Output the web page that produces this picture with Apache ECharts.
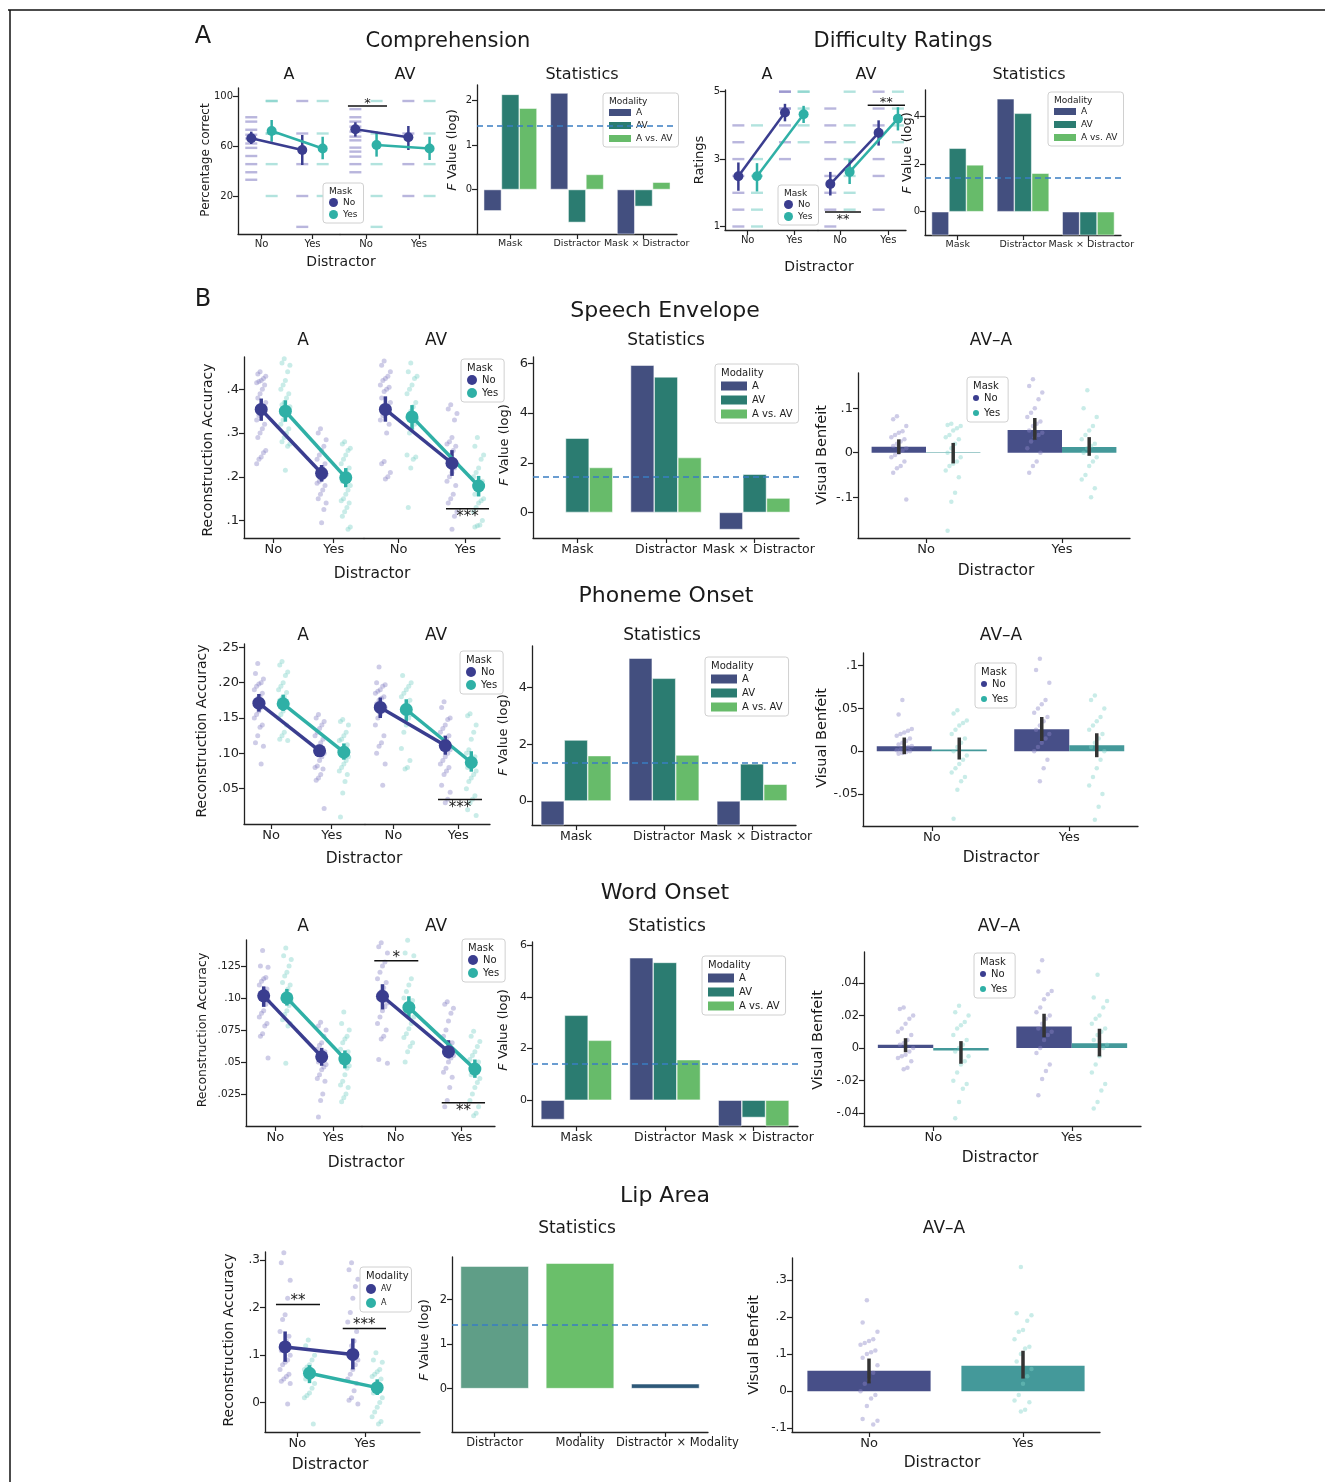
<!DOCTYPE html>
<html><head><meta charset="utf-8">
<script src="https://cdn.jsdelivr.net/npm/echarts@6/dist/echarts.min.js"></script>
<style>html,body{margin:0;padding:0;background:#fff}#c{width:1325px;height:1482px}</style>
</head><body><div id="c"></div>
<script>
// ======================= DATA =======================
const distractorCats = ['No', 'Yes'];
const statCatsMD = ['Mask', 'Distractor', 'Mask × Distractor'];
const statCatsLip = ['Distractor', 'Modality', 'Distractor × Modality'];

// ---- Comprehension (percentage correct)
const compTicks = [20, 60, 100], compTickLabels = ['20', '60', '100'];
const compA_meanNo = [66.2, 56.8], compA_meanYes = [72.0, 58.0];
const compA_loNo = [61.6, 44.8], compA_hiNo = [71.5, 68.8];
const compA_loYes = [63.4, 49.4], compA_hiYes = [80.8, 67.4];
const compAV_meanNo = [73.4, 67.0], compAV_meanYes = [60.8, 58.0];
const compAV_loNo = [67.5, 56.8], compAV_hiNo = [79.0, 76.0];
const compAV_loYes = [51.5, 48.8], compAV_hiYes = [71.5, 67.4];
const compA_dotsNo = [[83, 79.5, 73, 69, 66, 62, 58.5, 52, 45.5, 39, 33], [96, 70, 45.5, 20, -4.7]];
const compA_dotsYes = [[96, 96, 70, 70, 45.5, 20], [96, 70, 45.5, 20]];
const compAV_dotsNo = [[89.5, 83, 79.5, 75.5, 71.5, 67.5, 64.5, 58.7, 55.5, 51.5, 45.5, 39], [96, 70, 45.5, 20]];
const compAV_dotsYes = [[96, 70, 45.5, 20, -4.7], [96, 70, 45.5, 20]];
const compSigAV = [[-0.34, 0.397, 92, '*', 'above']];
const compStat_A = [-0.48, 2.17, -1.2], compStat_AV = [2.14, -0.74, -0.38], compStat_AvsAV = [1.83, 0.34, 0.165];
const compThreshold = 1.44;

// ---- Difficulty ratings
const diffTicks = [1, 3, 5], diffTickLabels = ['1', '3', '5'];
const diffA_meanNo = [2.49, 4.38], diffA_meanYes = [2.49, 4.33];
const diffA_loNo = [2.06, 4.12], diffA_hiNo = [2.9, 4.64];
const diffA_loYes = [2.04, 4.07], diffA_hiYes = [2.88, 4.58];
const diffAV_meanNo = [2.26, 3.78], diffAV_meanYes = [2.62, 4.2];
const diffAV_loNo = [1.92, 3.4], diffAV_hiNo = [2.62, 4.15];
const diffAV_loYes = [2.26, 3.85], diffAV_hiYes = [2.99, 4.54];
const diffA_dotsNo = [[4, 3.5, 3, 2.5, 2, 1.5, 1], [5, 5, 4.5, 4.5, 4, 3.5, 3]];
const diffA_dotsYes = [[4, 3, 2.5, 2, 1.5, 1], [5, 5, 4.5, 4, 3.5]];
const diffAV_dotsNo = [[4.5, 4, 3.5, 3, 2.5, 2, 1.5, 1], [5, 4.5, 4, 3, 2.5, 1.5]];
const diffAV_dotsYes = [[5, 4, 3.5, 3, 2.5, 2, 1.5], [5, 4.5, 4, 3.5]];
const diffSigAV = [[-0.31, 0.435, 1.43, '**', 'below'], [0.574, 1.346, 4.6, '**', 'above']];
const diffStat_A = [-1.2, 4.75, -1.2], diffStat_AV = [2.67, 4.14, -1.2], diffStat_AvsAV = [1.97, 1.62, -1.2];
const diffThreshold = 1.43;

// ---- Speech envelope
const seTicks = [0.1, 0.2, 0.3, 0.4], seTickLabels = ['.1', '.2', '.3', '.4'];
const seA_meanNo = [0.354, 0.208], seA_meanYes = [0.35, 0.198];
const seA_loNo = [0.328, 0.189], seA_hiNo = [0.379, 0.227];
const seA_loYes = [0.326, 0.176], seA_hiYes = [0.375, 0.22];
const seAV_meanNo = [0.354, 0.231], seAV_meanYes = [0.337, 0.179];
const seAV_loNo = [0.326, 0.202], seAV_hiNo = [0.384, 0.261];
const seAV_loYes = [0.308, 0.155], seAV_hiYes = [0.364, 0.202];
const seA_dotsNo = [[0.44, 0.435, 0.43, 0.425, 0.42, 0.418, 0.415, 0.41, 0.40, 0.39, 0.38, 0.37, 0.36, 0.35, 0.34, 0.33, 0.32, 0.31, 0.30, 0.29, 0.26, 0.255, 0.245, 0.24, 0.23],
                    [0.31, 0.30, 0.285, 0.27, 0.26, 0.25, 0.24, 0.23, 0.22, 0.215, 0.21, 0.205, 0.20, 0.195, 0.19, 0.185, 0.18, 0.17, 0.16, 0.15, 0.14, 0.125, 0.095]];
const seA_dotsYes = [[0.47, 0.46, 0.455, 0.44, 0.42, 0.41, 0.40, 0.39, 0.38, 0.37, 0.365, 0.36, 0.35, 0.34, 0.33, 0.32, 0.31, 0.30, 0.29, 0.28, 0.275, 0.27, 0.215],
                     [0.28, 0.275, 0.265, 0.26, 0.25, 0.24, 0.23, 0.22, 0.21, 0.20, 0.19, 0.18, 0.17, 0.16, 0.15, 0.145, 0.14, 0.13, 0.12, 0.11, 0.085, 0.08]];
const seAV_dotsNo = [[0.465, 0.455, 0.44, 0.43, 0.425, 0.42, 0.41, 0.405, 0.40, 0.395, 0.38, 0.37, 0.36, 0.35, 0.34, 0.33, 0.32, 0.30, 0.235, 0.23, 0.21, 0.20, 0.195],
                     [0.365, 0.355, 0.345, 0.33, 0.29, 0.28, 0.275, 0.27, 0.26, 0.25, 0.24, 0.23, 0.22, 0.21, 0.20, 0.19, 0.18, 0.16, 0.15, 0.14, 0.12, 0.11, 0.08]];
const seAV_dotsYes = [[0.46, 0.44, 0.43, 0.425, 0.41, 0.40, 0.39, 0.37, 0.36, 0.35, 0.34, 0.33, 0.32, 0.31, 0.30, 0.25, 0.245, 0.24, 0.22, 0.13],
                      [0.29, 0.27, 0.25, 0.24, 0.22, 0.21, 0.20, 0.19, 0.18, 0.17, 0.16, 0.15, 0.145, 0.14, 0.13, 0.12, 0.10, 0.09, 0.088, 0.085]];
const seSigAV = [[0.71, 1.356, 0.127, '***', 'below']];
const seStat_A = [0.02, 5.93, -0.69], seStat_AV = [2.99, 5.46, 1.54], seStat_AvsAV = [1.81, 2.21, 0.58];
const seThreshold = 1.43;
const seBTicks = [-0.1, 0, 0.1], seBTickLabels = ['-.1', '0', '.1'];
const seB_meanNo = [0.0135, 0.051], seB_meanYes = [0.001, 0.013];
const seB_loNo = [-0.003, 0.029], seB_hiNo = [0.03, 0.078];
const seB_loYes = [-0.024, -0.007], seB_hiYes = [0.022, 0.035];
const seB_dotsNo = [[0.082, 0.075, 0.06, 0.048, 0.045, 0.04, 0.035, 0.03, 0.025, 0.02, 0.015, 0.01, 0.005, 0, -0.005, -0.01, -0.02, -0.03, -0.035, -0.045, -0.105],
                    [0.165, 0.15, 0.135, 0.12, 0.1, 0.09, 0.08, 0.07, 0.065, 0.06, 0.05, 0.045, 0.04, 0.035, 0.025, 0.01, 0, -0.02, -0.03, -0.045]];
const seB_dotsYes = [[0.065, 0.062, 0.06, 0.055, 0.05, 0.04, 0.035, 0.03, 0.02, 0.01, 0, -0.01, -0.02, -0.025, -0.03, -0.04, -0.055, -0.09, -0.11, -0.175],
                     [0.14, 0.1, 0.08, 0.06, 0.05, 0.04, 0.03, 0.02, 0.015, 0.01, 0, -0.01, -0.02, -0.03, -0.05, -0.06, -0.08, -0.1]];

// ---- Phoneme onset
const poTicks = [0.05, 0.1, 0.15, 0.2, 0.25], poTickLabels = ['.05', '.10', '.15', '.20', '.25'];
const poA_meanNo = [0.171, 0.1035], poA_meanYes = [0.170, 0.1017];
const poA_loNo = [0.159, 0.095], poA_hiNo = [0.184, 0.112];
const poA_loYes = [0.160, 0.091], poA_hiYes = [0.183, 0.114];
const poAV_meanNo = [0.165, 0.111], poAV_meanYes = [0.162, 0.087];
const poAV_loNo = [0.150, 0.098], poAV_hiNo = [0.179, 0.125];
const poAV_loYes = [0.145, 0.074], poAV_hiYes = [0.1765, 0.103];
const poA_dotsNo = [[0.227, 0.213, 0.205, 0.20, 0.198, 0.195, 0.19, 0.185, 0.18, 0.178, 0.175, 0.17, 0.165, 0.16, 0.155, 0.15, 0.14, 0.137, 0.125, 0.115, 0.11, 0.085],
                    [0.155, 0.15, 0.145, 0.14, 0.135, 0.13, 0.125, 0.12, 0.115, 0.11, 0.105, 0.1, 0.095, 0.09, 0.082, 0.08, 0.078, 0.07, 0.065, 0.062, 0.022]];
const poA_dotsYes = [[0.23, 0.225, 0.215, 0.21, 0.2, 0.195, 0.19, 0.186, 0.18, 0.178, 0.175, 0.17, 0.165, 0.16, 0.155, 0.15, 0.14, 0.13, 0.125, 0.12, 0.118],
                     [0.148, 0.145, 0.14, 0.13, 0.125, 0.12, 0.118, 0.112, 0.108, 0.104, 0.1, 0.095, 0.09, 0.085, 0.08, 0.075, 0.07, 0.06, 0.044, 0.01]];
const poAV_dotsNo = [[0.222, 0.2, 0.197, 0.195, 0.19, 0.188, 0.185, 0.18, 0.178, 0.175, 0.17, 0.165, 0.16, 0.155, 0.15, 0.14, 0.125, 0.115, 0.11, 0.1, 0.085, 0.055],
                     [0.173, 0.165, 0.15, 0.148, 0.14, 0.135, 0.13, 0.125, 0.12, 0.115, 0.11, 0.105, 0.1, 0.095, 0.09, 0.085, 0.08, 0.075, 0.07, 0.055, 0.045, 0.035, 0.03]];
const poAV_dotsYes = [[0.255, 0.21, 0.2, 0.195, 0.19, 0.185, 0.18, 0.175, 0.17, 0.165, 0.16, 0.155, 0.15, 0.14, 0.13, 0.107, 0.09, 0.08, 0.078],
                      [0.156, 0.153, 0.14, 0.13, 0.12, 0.105, 0.1, 0.095, 0.09, 0.085, 0.08, 0.075, 0.07, 0.065, 0.06, 0.05, 0.04, 0.035, 0.03, 0.02, 0.012]];
const poSigAV = [[0.688, 1.365, 0.0345, '***', 'below']];
const poStat_A = [-1.0, 5.04, -1.0], poStat_AV = [2.15, 4.33, 1.31], poStat_AvsAV = [1.6, 1.62, 0.59];
const poThreshold = 1.35;
const poBTicks = [-0.05, 0, 0.05, 0.1], poBTickLabels = ['-.05', '0', '.05', '.1'];
const poB_meanNo = [0.0058, 0.0257], poB_meanYes = [0.002, 0.007];
const poB_loNo = [-0.0035, 0.012], poB_hiNo = [0.016, 0.04];
const poB_loYes = [-0.0097, -0.007], poB_hiYes = [0.016, 0.021];
const poB_dotsNo = [[0.06, 0.043, 0.026, 0.024, 0.022, 0.02, 0.018, 0.015, 0.012, 0.01, 0.008, 0.006, 0.005, 0.003, 0.002, 0.001, 0, -0.001, -0.002, -0.003],
                    [0.108, 0.095, 0.08, 0.06, 0.055, 0.05, 0.045, 0.04, 0.035, 0.03, 0.025, 0.02, 0.015, 0.01, 0.005, 0, -0.01, -0.02, -0.035]];
const poB_dotsYes = [[0.048, 0.044, 0.036, 0.033, 0.03, 0.025, 0.02, 0.015, 0.01, 0.005, 0, -0.005, -0.01, -0.015, -0.02, -0.025, -0.03, -0.035, -0.045, -0.079],
                     [0.065, 0.06, 0.05, 0.04, 0.035, 0.03, 0.025, 0.02, 0.015, 0.01, 0.005, 0, -0.01, -0.02, -0.03, -0.04, -0.05, -0.065, -0.08]];

// ---- Word onset
const woTicks = [0.025, 0.05, 0.075, 0.1, 0.125], woTickLabels = ['.025', '.05', '.075', '.10', '.125'];
const woA_meanNo = [0.1016, 0.054], woA_meanYes = [0.100, 0.0523];
const woA_loNo = [0.093, 0.047], woA_hiNo = [0.109, 0.061];
const woA_loYes = [0.094, 0.045], woA_hiYes = [0.107, 0.059];
const woAV_meanNo = [0.1013, 0.058], woAV_meanYes = [0.0926, 0.0444];
const woAV_loNo = [0.091, 0.0528], woAV_hiNo = [0.1107, 0.067];
const woAV_loYes = [0.084, 0.0376], woAV_hiYes = [0.1013, 0.0519];
const woA_dotsNo = [[0.137, 0.125, 0.124, 0.116, 0.115, 0.113, 0.11, 0.107, 0.105, 0.103, 0.1, 0.098, 0.095, 0.09, 0.088, 0.085, 0.08, 0.078, 0.072, 0.07, 0.053],
                    [0.081, 0.078, 0.075, 0.07, 0.065, 0.063, 0.06, 0.058, 0.055, 0.053, 0.05, 0.048, 0.046, 0.044, 0.04, 0.037, 0.035, 0.025, 0.02, 0.007]];
const woA_dotsYes = [[0.139, 0.133, 0.13, 0.125, 0.12, 0.117, 0.112, 0.11, 0.107, 0.104, 0.1, 0.097, 0.094, 0.09, 0.087, 0.083, 0.08, 0.078, 0.049],
                     [0.089, 0.08, 0.075, 0.07, 0.068, 0.065, 0.06, 0.058, 0.055, 0.052, 0.05, 0.047, 0.045, 0.04, 0.035, 0.032, 0.03, 0.025, 0.022, 0.019]];
const woAV_dotsNo = [[0.143, 0.14, 0.135, 0.128, 0.125, 0.12, 0.115, 0.112, 0.108, 0.105, 0.1, 0.096, 0.093, 0.09, 0.085, 0.08, 0.075, 0.07, 0.068, 0.052, 0.049],
                     [0.097, 0.095, 0.092, 0.088, 0.082, 0.075, 0.07, 0.065, 0.063, 0.06, 0.058, 0.055, 0.053, 0.05, 0.045, 0.042, 0.038, 0.03, 0.02, 0.015]];
const woAV_dotsYes = [[0.145, 0.135, 0.133, 0.115, 0.11, 0.105, 0.1, 0.098, 0.095, 0.092, 0.088, 0.085, 0.08, 0.076, 0.072, 0.069, 0.065, 0.062, 0.058, 0.05],
                      [0.074, 0.07, 0.066, 0.062, 0.058, 0.055, 0.052, 0.05, 0.047, 0.044, 0.04, 0.037, 0.034, 0.03, 0.025, 0.02, 0.015, 0.01, 0.008]];
const woSigAV = [[-0.324, 0.343, 0.129, '*', 'above'], [0.698, 1.354, 0.0182, '**', 'below']];
const woStat_A = [-0.75, 5.52, -1.2], woStat_AV = [3.29, 5.34, -0.67], woStat_AvsAV = [2.32, 1.57, -1.2];
const woThreshold = 1.42;
const woBTicks = [-0.04, -0.02, 0, 0.02, 0.04], woBTickLabels = ['-.04', '-.02', '0', '.02', '.04'];
const woB_meanNo = [0.002, 0.0133], woB_meanYes = [-0.0015, 0.003];
const woB_loNo = [-0.0025, 0.0067], woB_hiNo = [0.0061, 0.0211];
const woB_loYes = [-0.0096, -0.0051], woB_hiYes = [0.0043, 0.0119];
const woB_dotsNo = [[0.025, 0.024, 0.02, 0.018, 0.015, 0.012, 0.01, 0.008, 0.005, 0.003, 0.002, 0, -0.002, -0.004, -0.005, -0.006, -0.008, -0.012, -0.013],
                    [0.054, 0.047, 0.035, 0.033, 0.03, 0.025, 0.022, 0.02, 0.018, 0.015, 0.012, 0.01, 0.008, 0.005, 0, -0.003, -0.01, -0.014, -0.019, -0.029]];
const woB_dotsYes = [[0.026, 0.022, 0.02, 0.016, 0.014, 0.012, 0.008, 0.005, 0.002, 0, -0.002, -0.005, -0.008, -0.01, -0.015, -0.02, -0.022, -0.025, -0.033, -0.043],
                     [0.045, 0.031, 0.029, 0.025, 0.02, 0.018, 0.015, 0.012, 0.01, 0.008, 0.005, 0.002, 0, -0.005, -0.01, -0.015, -0.022, -0.026, -0.033, -0.037]];

// ---- Lip area
const lipTicks = [0, 0.1, 0.2, 0.3], lipTickLabels = ['0', '.1', '.2', '.3'];
const lip_meanAV = [0.1174, 0.1015], lip_meanA = [0.0619, 0.0315];
const lip_loAV = [0.086, 0.070], lip_hiAV = [0.150, 0.135];
const lip_loA = [0.041, 0.016], lip_hiA = [0.079, 0.049];
const lip_dotsAV = [[0.316, 0.295, 0.258, 0.22, 0.185, 0.175, 0.15, 0.14, 0.13, 0.12, 0.11, 0.1, 0.09, 0.085, 0.08, 0.07, 0.06, 0.055, 0.05, 0.045, 0.04, -0.003],
                    [0.295, 0.28, 0.26, 0.245, 0.22, 0.19, 0.17, 0.15, 0.13, 0.12, 0.1, 0.09, 0.08, 0.07, 0.06, 0.05, 0.04, 0.025, 0.01, 0.005, -0.003]];
const lip_dotsA = [[0.132, 0.12, 0.1, 0.09, 0.08, 0.075, 0.07, 0.065, 0.06, 0.055, 0.05, 0.04, 0.03, 0.02, 0.015, 0.01, -0.045],
                   [0.105, 0.09, 0.085, 0.07, 0.065, 0.06, 0.055, 0.05, 0.04, 0.03, 0.02, 0.01, 0, -0.01, -0.02, -0.03, -0.04, -0.045]];
const lipSig = [[-0.315, 0.335, 0.207, '**', 'above'], [0.671, 1.31, 0.156, '***', 'above']];
const lipStat = [2.755, 2.82, 0.11];
const lipThreshold = 1.44;
const lipBTicks = [-0.1, 0, 0.1, 0.2, 0.3], lipBTickLabels = ['-.1', '0', '.1', '.2', '.3'];
const lipB_mean = [0.055, 0.0685], lipB_lo = [0.021, 0.034], lipB_hi = [0.088, 0.109];
const lipB_dots = [[0.245, 0.185, 0.16, 0.14, 0.135, 0.13, 0.125, 0.11, 0.105, 0.1, 0.09, 0.07, 0.05, 0.03, 0.02, 0, -0.01, -0.02, -0.04, -0.075, -0.08, -0.09],
                   [0.335, 0.21, 0.205, 0.19, 0.165, 0.16, 0.14, 0.12, 0.115, 0.1, 0.08, 0.06, 0.04, 0.02, -0.01, -0.025, -0.03, -0.05, -0.055]];

// ======================= STYLE / HELPERS =======================
const F = 'DejaVu Sans';
const COL = {no: '#3a3d8f', yes: '#2fb0a6', noDot: '#8a86c6', yesDot: '#7fd1c8',
  A: '#434f7f', AV: '#2b7c71', AvAV: '#67bb6a', barNo: '#474f88', barYes: '#44999a',
  lip1: '#5f9e87', lip2: '#6abf6a', lip3: '#2d5878', thr: '#3a7ec2', ax: '#222', err: '#333'};

const option = {animation: false, backgroundColor: '#fff', textStyle: {fontFamily: F},
  grid: [], xAxis: [], yAxis: [], series: [], legend: [], graphic: []};

function addGrid(l, t, w, h) {
  option.grid.push({left: l, top: t, width: w, height: h, containLabel: false, outerBoundsMode: 'none'});
  return option.grid.length - 1;
}
function fmtFrom(ticks, labels) {
  return v => { const i = ticks.findIndex(t => Math.abs(t - v) < 1e-9); return i < 0 ? '' : labels[i]; };
}
function axisCommon(fs) {
  return {axisLine: {show: true, onZero: false, lineStyle: {color: COL.ax, width: 1.3}},
    axisTick: {show: true, length: 5, lineStyle: {color: COL.ax, width: 1.2}},
    axisLabel: {show: true, fontSize: fs, color: '#222', margin: 5, fontFamily: F},
    splitLine: {show: false}};
}
function valX(gi, min, max, ticks, labels, fs, show) {
  const a = Object.assign(axisCommon(fs), {type: 'value', gridIndex: gi, min, max, show, position: show ? 'bottom' : 'top'});
  a.axisTick.customValues = ticks; a.axisLabel.customValues = ticks; a.axisLabel.formatter = fmtFrom(ticks, labels);
  option.xAxis.push(a); return option.xAxis.length - 1;
}
function valY(gi, min, max, ticks, labels, fs, show) {
  const a = Object.assign(axisCommon(fs), {type: 'value', gridIndex: gi, min, max, show, position: 'left'});
  a.axisTick.customValues = ticks; a.axisLabel.customValues = ticks; a.axisLabel.formatter = fmtFrom(ticks, labels);
  option.yAxis.push(a); return option.yAxis.length - 1;
}
function catX(gi, cats, fs, lastShift) {
  const a = Object.assign(axisCommon(fs), {type: 'category', gridIndex: gi, data: cats, position: 'bottom'});
  a.axisTick.alignWithLabel = true; a.axisTick.interval = 0; a.axisLabel.interval = 0;
  if (lastShift) {
    a.axisLabel.formatter = (v, i) => i === cats.length - 1 ? '{r|' + v + '}' : v;
    a.axisLabel.rich = {r: {padding: [0, 0, 0, lastShift], fontSize: fs, fontFamily: F, color: '#222'}};
  }
  option.xAxis.push(a); return option.xAxis.length - 1;
}
// deterministic horizontal spread for the strip dots (position only)
function jit(i, amp) { return ((((i * 7 + 3) % 9) - 4) / 4) * amp; }
function errRender(lw, color) {
  return (params, api) => {
    const p1 = api.coord([api.value(0), api.value(1)]), p2 = api.coord([api.value(0), api.value(2)]);
    return {type: 'line', shape: {x1: p1[0], y1: p1[1], x2: p2[0], y2: p2[1]}, style: {stroke: color, lineWidth: lw}};
  };
}
function sigSeries(xi, yi, s, fs) {
  return {type: 'custom', xAxisIndex: xi, yAxisIndex: yi, silent: true, z: 6, clip: false, data: [[s[0], s[1], s[2]]],
    renderItem: (pr, api) => {
      const a = api.coord([api.value(0), api.value(2)]), b = api.coord([api.value(1), api.value(2)]);
      const above = s[4] === 'above';
      return {type: 'group', children: [
        {type: 'line', shape: {x1: a[0], y1: a[1], x2: b[0], y2: b[1]}, style: {stroke: '#111', lineWidth: 1.5}},
        {type: 'text', x: (a[0] + b[0]) / 2, y: above ? a[1] + fs * 0.3 : a[1] + 1,
          style: {text: s[3], fontSize: fs, fontFamily: F, fill: '#222', textAlign: 'center', textVerticalAlign: above ? 'bottom' : 'top'}}]};
    }};
}
function hue(name, off, color, dot, mean, lo, hi, dots) { return {name, off, color, dot, mean, lo, hi, dots}; }

function pointFacet(p) {
  const gi = addGrid(p.l, p.t, p.w, p.h);
  const xi = valX(gi, p.xmin, p.xmax, [0, 1], distractorCats, p.xfs, true);
  const yi = valY(gi, p.ymin, p.ymax, p.yTicks, p.yLabels, p.yfs, p.showY);
  p.hues.forEach(h => {
    [0, 1].forEach(c => {
      option.series.push({type: 'scatter', name: h.name, xAxisIndex: xi, yAxisIndex: yi, silent: true, z: 1,
        symbol: p.dash ? 'rect' : 'circle', symbolSize: p.dash ? [12, 2.4] : 5,
        itemStyle: {color: h.dot, opacity: p.dash ? 0.6 : 0.42},
        data: h.dots[c].map((v, i) => [c + h.off + (p.dash ? 0 : jit(i, 0.075)), v])});
    });
    option.series.push({type: 'custom', xAxisIndex: xi, yAxisIndex: yi, silent: true, z: 3, clip: false,
      data: [0, 1].map(c => [c + h.off, h.lo[c], h.hi[c]]), renderItem: errRender(p.elw, h.color)});
    option.series.push({type: 'line', xAxisIndex: xi, yAxisIndex: yi, silent: true, z: 4, symbol: 'circle', symbolSize: p.ms,
      itemStyle: {color: h.color}, lineStyle: {color: h.color, width: p.lw},
      data: [0, 1].map(c => [c + h.off, h.mean[c]])});
  });
  (p.sig || []).forEach(s => option.series.push(sigSeries(xi, yi, s, p.sigFs)));
}

function statsPanel(p) {
  const gi = addGrid(p.l, p.t, p.w, p.h);
  const xi = catX(gi, p.cats, p.xfs, p.lastShift);
  const yi = valY(gi, p.ymin, p.ymax, p.yTicks, p.yLabels, p.yfs, true);
  p.bars.forEach((b, k) => {
    const s = {type: 'bar', name: b.name, xAxisIndex: xi, yAxisIndex: yi, silent: true, z: 2, clip: true,
      barGap: '0%', barCategoryGap: '20%',
      itemStyle: {color: b.color, borderColor: 'rgba(255,255,255,0.85)', borderWidth: 0.6},
      data: b.colors ? b.values.map((v, i) => ({value: v, itemStyle: {color: b.colors[i]}})) : b.values};
    if (b.colors) { delete s.barGap; delete s.barCategoryGap; s.barWidth = '80%'; }
    if (k === p.bars.length - 1) {
      s.markLine = {silent: true, symbol: ['none', 'none'], label: {show: false}, animation: false,
        lineStyle: {color: COL.thr, type: [6, 4], width: 1.6}, data: [{yAxis: p.thr}]};
    }
    option.series.push(s);
  });
}

function benefitPanel(p) {
  const gi = addGrid(p.l, p.t, p.w, p.h);
  const xc = catX(gi, distractorCats, p.xfs);
  const xv = valX(gi, -0.5, 1.5, [0, 1], distractorCats, p.xfs, false);
  const yi = valY(gi, p.ymin, p.ymax, p.yTicks, p.yLabels, p.yfs, true);
  p.hues.forEach((h, k) => {
    const bar = {type: 'bar', xAxisIndex: xc, yAxisIndex: yi, silent: true, z: 2, itemStyle: {color: h.bar}};
    if (p.single) { bar.barWidth = '80%'; bar.data = h.mean.map((v, i) => ({value: v, itemStyle: {color: p.barColors[i]}})); }
    else { bar.barGap = '0%'; bar.barCategoryGap = '20%'; bar.data = h.mean; }
    if (!p.single || k === 0) option.series.push(bar);
    [0, 1].forEach(c => {
      const dc = p.single ? p.dotColors[c] : h.dot;
      option.series.push({type: 'scatter', name: h.name, xAxisIndex: xv, yAxisIndex: yi, silent: true, z: 3,
        symbolSize: 4.5, itemStyle: {color: dc, opacity: 0.42},
        data: h.dots[c].map((v, i) => [c + h.off + jit(i, 0.055), v])});
    });
    option.series.push({type: 'custom', xAxisIndex: xv, yAxisIndex: yi, silent: true, z: 5, clip: false,
      data: [0, 1].map(c => [c + h.off, h.lo[c], h.hi[c]]), renderItem: errRender(3.5, COL.err)});
  });
}

function addLegend(left, top, title, items, o) {
  option.legend.push({left, top, orient: 'vertical', selectedMode: false, icon: o.icon, itemWidth: o.iw, itemHeight: o.ih,
    itemGap: o.gap, padding: [o.pt, o.pr || 6, 4, 6], borderColor: '#d0d0d0', borderWidth: 1, borderRadius: 3,
    backgroundColor: '#fff', textStyle: {fontSize: o.fs, color: '#222', fontFamily: F},
    formatter: n => n.split('|')[1],
    data: items.map(it => ({name: it[0], itemStyle: {color: it[1], opacity: 1, borderWidth: 0}}))});
  option.graphic.push({type: 'text', x: left + 6, y: top + 4, z: 100, silent: true,
    style: {text: title, fontSize: o.tfs || o.fs, fontFamily: F, fill: '#222', textAlign: 'left', textVerticalAlign: 'top'}});
}
function addText(x, y, s, fs, o) {
  o = o || {};
  const st = {text: s, fontSize: fs, fontFamily: F, fill: '#1a1a1a', textAlign: 'center', textVerticalAlign: 'middle'};
  if (o.rich) st.rich = o.rich;
  option.graphic.push({type: 'text', x, y, rotation: o.rot || 0, z: 100, silent: true, style: st});
}
function yTitle(x, y, s, fs) { addText(x, y, s, fs, {rot: Math.PI / 2}); }
function fTitle(x, y, fs) {
  addText(x, y, '{i|F} Value (log)', fs, {rot: Math.PI / 2,
    rich: {i: {fontStyle: 'italic', fontSize: fs, fontFamily: F, fill: '#1a1a1a', color: '#1a1a1a'}}});
}

// ======================= BUILD =======================
// figure frame
option.graphic.push({type: 'line', z: 100, silent: true, shape: {x1: 8, y1: 10, x2: 1325, y2: 10}, style: {stroke: '#111', lineWidth: 1.5}});
option.graphic.push({type: 'line', z: 100, silent: true, shape: {x1: 10, y1: 10, x2: 10, y2: 1482}, style: {stroke: '#111', lineWidth: 1.5}});

const secA = {xfs: 10, yfs: 10, dash: true, ms: 10, lw: 2.5, elw: 2.5, sigFs: 13};
const secB = {xfs: 13, yfs: 13, dash: false, ms: 13, lw: 3.5, elw: 3.5, sigFs: 15};

// ---- Comprehension
pointFacet(Object.assign({}, secA, {l: 238, t: 88, w: 102, h: 146, xmin: -0.46, xmax: 1.54, ymin: -10.4, ymax: 106.4,
  yTicks: compTicks, yLabels: compTickLabels, showY: true,
  hues: [hue('comp|No', -0.2, COL.no, COL.noDot, compA_meanNo, compA_loNo, compA_hiNo, compA_dotsNo),
         hue('comp|Yes', 0.2, COL.yes, COL.yesDot, compA_meanYes, compA_loYes, compA_hiYes, compA_dotsYes)]}));
pointFacet(Object.assign({}, secA, {l: 340, t: 88, w: 137, h: 146, xmin: -0.49, xmax: 2.095, ymin: -10.4, ymax: 106.4,
  yTicks: compTicks, yLabels: compTickLabels, showY: false, sig: compSigAV,
  hues: [hue('comp|No', -0.2, COL.no, COL.noDot, compAV_meanNo, compAV_loNo, compAV_hiNo, compAV_dotsNo),
         hue('comp|Yes', 0.2, COL.yes, COL.yesDot, compAV_meanYes, compAV_loYes, compAV_hiYes, compAV_dotsYes)]}));
statsPanel({l: 477, t: 85, w: 200, h: 149, cats: statCatsMD, xfs: 9.5, yfs: 10, ymin: -1.0, ymax: 2.35,
  yTicks: [0, 1, 2], yLabels: ['0', '1', '2'], thr: compThreshold, lastShift: 6,
  bars: [{name: 'cs|A', color: COL.A, values: compStat_A}, {name: 'cs|AV', color: COL.AV, values: compStat_AV},
         {name: 'cs|A vs. AV', color: COL.AvAV, values: compStat_AvsAV}]});

// ---- Difficulty ratings
pointFacet(Object.assign({}, secA, {l: 725, t: 90, w: 93, h: 140, xmin: -0.487, xmax: 1.509, ymin: 0.896, ymax: 5.05,
  yTicks: diffTicks, yLabels: diffTickLabels, showY: true,
  hues: [hue('diff|No', -0.2, COL.no, COL.noDot, diffA_meanNo, diffA_loNo, diffA_hiNo, diffA_dotsNo),
         hue('diff|Yes', 0.2, COL.yes, COL.yesDot, diffA_meanYes, diffA_loYes, diffA_hiYes, diffA_dotsYes)]}));
pointFacet(Object.assign({}, secA, {l: 818, t: 90, w: 88, h: 140, xmin: -0.455, xmax: 1.367, ymin: 0.896, ymax: 5.05,
  yTicks: diffTicks, yLabels: diffTickLabels, showY: false, sig: diffSigAV,
  hues: [hue('diff|No', -0.2, COL.no, COL.noDot, diffAV_meanNo, diffAV_loNo, diffAV_hiNo, diffAV_dotsNo),
         hue('diff|Yes', 0.2, COL.yes, COL.yesDot, diffAV_meanYes, diffAV_loYes, diffAV_hiYes, diffAV_dotsYes)]}));
statsPanel({l: 925, t: 90, w: 196, h: 145, cats: statCatsMD, xfs: 9.5, yfs: 10, ymin: -0.98, ymax: 5.12,
  yTicks: [0, 2, 4], yLabels: ['0', '2', '4'], thr: diffThreshold, lastShift: 6,
  bars: [{name: 'ds|A', color: COL.A, values: diffStat_A}, {name: 'ds|AV', color: COL.AV, values: diffStat_AV},
         {name: 'ds|A vs. AV', color: COL.AvAV, values: diffStat_AvsAV}]});

// ---- Speech envelope
pointFacet(Object.assign({}, secB, {l: 244, t: 357, w: 120, h: 181, xmin: -0.485, xmax: 1.502, ymin: 0.06, ymax: 0.474,
  yTicks: seTicks, yLabels: seTickLabels, showY: true,
  hues: [hue('se|No', -0.2, COL.no, COL.noDot, seA_meanNo, seA_loNo, seA_hiNo, seA_dotsNo),
         hue('se|Yes', 0.2, COL.yes, COL.yesDot, seA_meanYes, seA_loYes, seA_hiYes, seA_dotsYes)]}));
pointFacet(Object.assign({}, secB, {l: 364, t: 357, w: 136, h: 181, xmin: -0.521, xmax: 1.521, ymin: 0.06, ymax: 0.474,
  yTicks: seTicks, yLabels: seTickLabels, showY: false, sig: seSigAV,
  hues: [hue('se|No', -0.2, COL.no, COL.noDot, seAV_meanNo, seAV_loNo, seAV_hiNo, seAV_dotsNo),
         hue('se|Yes', 0.2, COL.yes, COL.yesDot, seAV_meanYes, seAV_loYes, seAV_hiYes, seAV_dotsYes)]}));
statsPanel({l: 533, t: 357, w: 266, h: 181, cats: statCatsMD, xfs: 12.5, yfs: 13, ymin: -1.03, ymax: 6.26,
  yTicks: [0, 2, 4, 6], yLabels: ['0', '2', '4', '6'], thr: seThreshold, lastShift: 8,
  bars: [{name: 'ss|A', color: COL.A, values: seStat_A}, {name: 'ss|AV', color: COL.AV, values: seStat_AV},
         {name: 'ss|A vs. AV', color: COL.AvAV, values: seStat_AvsAV}]});
benefitPanel({l: 858, t: 373, w: 272, h: 165, xfs: 13, yfs: 13, ymin: -0.1915, ymax: 0.179, yTicks: seBTicks, yLabels: seBTickLabels,
  hues: [{name: 'sb|No', off: -0.2, bar: COL.barNo, dot: COL.noDot, mean: seB_meanNo, lo: seB_loNo, hi: seB_hiNo, dots: seB_dotsNo},
         {name: 'sb|Yes', off: 0.2, bar: COL.barYes, dot: COL.yesDot, mean: seB_meanYes, lo: seB_loYes, hi: seB_hiYes, dots: seB_dotsYes}]});

// ---- Phoneme onset
pointFacet(Object.assign({}, secB, {l: 244, t: 644, w: 121, h: 180, xmin: -0.445, xmax: 1.548, ymin: 0, ymax: 0.2547,
  yTicks: poTicks, yLabels: poTickLabels, showY: true,
  hues: [hue('po|No', -0.2, COL.no, COL.noDot, poA_meanNo, poA_loNo, poA_hiNo, poA_dotsNo),
         hue('po|Yes', 0.2, COL.yes, COL.yesDot, poA_meanYes, poA_loYes, poA_hiYes, poA_dotsYes)]}));
pointFacet(Object.assign({}, secB, {l: 365, t: 644, w: 125, h: 180, xmin: -0.435, xmax: 1.488, ymin: 0, ymax: 0.2547,
  yTicks: poTicks, yLabels: poTickLabels, showY: false, sig: poSigAV,
  hues: [hue('po|No', -0.2, COL.no, COL.noDot, poAV_meanNo, poAV_loNo, poAV_hiNo, poAV_dotsNo),
         hue('po|Yes', 0.2, COL.yes, COL.yesDot, poAV_meanYes, poAV_loYes, poAV_hiYes, poAV_dotsYes)]}));
statsPanel({l: 532, t: 646, w: 264, h: 179, cats: statCatsMD, xfs: 12.5, yfs: 13, ymin: -0.85, ymax: 5.47,
  yTicks: [0, 2, 4], yLabels: ['0', '2', '4'], thr: poThreshold, lastShift: 8,
  bars: [{name: 'ps|A', color: COL.A, values: poStat_A}, {name: 'ps|AV', color: COL.AV, values: poStat_AV},
         {name: 'ps|A vs. AV', color: COL.AvAV, values: poStat_AvsAV}]});
benefitPanel({l: 863, t: 653, w: 275, h: 173, xfs: 13, yfs: 12.5, ymin: -0.0874, ymax: 0.1148, yTicks: poBTicks, yLabels: poBTickLabels,
  hues: [{name: 'pb|No', off: -0.2, bar: COL.barNo, dot: COL.noDot, mean: poB_meanNo, lo: poB_loNo, hi: poB_hiNo, dots: poB_dotsNo},
         {name: 'pb|Yes', off: 0.2, bar: COL.barYes, dot: COL.yesDot, mean: poB_meanYes, lo: poB_loYes, hi: poB_hiYes, dots: poB_dotsYes}]});

// ---- Word onset
pointFacet(Object.assign({}, secB, {l: 246, t: 940, w: 116, h: 186, xmin: -0.505, xmax: 1.495, ymin: 0, ymax: 0.1452,
  yTicks: woTicks, yLabels: woTickLabels, showY: true, yfs: 10.5,
  hues: [hue('wo|No', -0.2, COL.no, COL.noDot, woA_meanNo, woA_loNo, woA_hiNo, woA_dotsNo),
         hue('wo|Yes', 0.2, COL.yes, COL.yesDot, woA_meanYes, woA_loYes, woA_hiYes, woA_dotsYes)]}));
pointFacet(Object.assign({}, secB, {l: 362, t: 940, w: 133, h: 186, xmin: -0.51, xmax: 1.505, ymin: 0, ymax: 0.1452,
  yTicks: woTicks, yLabels: woTickLabels, showY: false, sig: woSigAV,
  hues: [hue('wo|No', -0.2, COL.no, COL.noDot, woAV_meanNo, woAV_loNo, woAV_hiNo, woAV_dotsNo),
         hue('wo|Yes', 0.2, COL.yes, COL.yesDot, woAV_meanYes, woAV_loYes, woAV_hiYes, woAV_dotsYes)]}));
statsPanel({l: 532, t: 942, w: 266, h: 184, cats: statCatsMD, xfs: 12.5, yfs: 11, ymin: -1.0, ymax: 6.13,
  yTicks: [0, 2, 4, 6], yLabels: ['0', '2', '4', '6'], thr: woThreshold, lastShift: 8,
  bars: [{name: 'ws|A', color: COL.A, values: woStat_A}, {name: 'ws|AV', color: COL.AV, values: woStat_AV},
         {name: 'ws|A vs. AV', color: COL.AvAV, values: woStat_AvsAV}]});
benefitPanel({l: 864, t: 952, w: 277, h: 174, xfs: 13, yfs: 11.5, ymin: -0.0478, ymax: 0.059, yTicks: woBTicks, yLabels: woBTickLabels,
  hues: [{name: 'wb|No', off: -0.2, bar: COL.barNo, dot: COL.noDot, mean: woB_meanNo, lo: woB_loNo, hi: woB_hiNo, dots: woB_dotsNo},
         {name: 'wb|Yes', off: 0.2, bar: COL.barYes, dot: COL.yesDot, mean: woB_meanYes, lo: woB_loYes, hi: woB_hiYes, dots: woB_dotsYes}]});

// ---- Lip area
pointFacet(Object.assign({}, secB, {l: 265, t: 1252, w: 155, h: 180, xmin: -0.477, xmax: 1.812, ymin: -0.062, ymax: 0.3175,
  yTicks: lipTicks, yLabels: lipTickLabels, showY: true, xfs: 13, yfs: 12, sig: lipSig,
  hues: [hue('lip|AV', -0.18, COL.no, COL.noDot, lip_meanAV, lip_loAV, lip_hiAV, lip_dotsAV),
         hue('lip|A', 0.18, COL.yes, COL.yesDot, lip_meanA, lip_loA, lip_hiA, lip_dotsA)]}));
statsPanel({l: 452, t: 1257, w: 256, h: 175, cats: statCatsLip, xfs: 11.5, yfs: 11.5, ymin: -0.975, ymax: 2.96,
  yTicks: [0, 1, 2], yLabels: ['0', '1', '2'], thr: lipThreshold, lastShift: 24,
  bars: [{name: 'ls|stat', color: COL.lip1, values: lipStat, colors: [COL.lip1, COL.lip2, COL.lip3]}]});
benefitPanel({l: 792, t: 1258, w: 308, h: 174, xfs: 13, yfs: 12, ymin: -0.11, ymax: 0.359, yTicks: lipBTicks, yLabels: lipBTickLabels,
  single: true, barColors: [COL.barNo, COL.barYes], dotColors: [COL.noDot, COL.yesDot],
  hues: [{name: 'lb|dots', off: 0, bar: COL.barNo, mean: lipB_mean, lo: lipB_lo, hi: lipB_hi, dots: lipB_dots}]});

// ---- Legends
const mOpt = {icon: 'circle', iw: 9, ih: 9, gap: 3, pt: 15, fs: 9};
addLegend(323, 183, 'Mask', [['comp|No', COL.no], ['comp|Yes', COL.yes]], mOpt);
addLegend(778, 185, 'Mask', [['diff|No', COL.no], ['diff|Yes', COL.yes]], mOpt);
const sOptA = {icon: 'rect', iw: 22, ih: 7, gap: 4, pt: 15, fs: 9};
addLegend(603, 93, 'Modality', [['cs|A', COL.A], ['cs|AV', COL.AV], ['cs|A vs. AV', COL.AvAV]], sOptA);
addLegend(1048, 92, 'Modality', [['ds|A', COL.A], ['ds|AV', COL.AV], ['ds|A vs. AV', COL.AvAV]], sOptA);
const mOptB = {icon: 'circle', iw: 10, ih: 10, gap: 3, pt: 16, fs: 10};
const sOptB = {icon: 'rect', iw: 26, ih: 9, gap: 4, pt: 17, fs: 10};
const bOptB = {icon: 'circle', iw: 6, ih: 6, gap: 5, pt: 16, fs: 10, pr: 8};
addLegend(461, 359, 'Mask', [['se|No', COL.no], ['se|Yes', COL.yes]], mOptB);
addLegend(715, 364, 'Modality', [['ss|A', COL.A], ['ss|AV', COL.AV], ['ss|A vs. AV', COL.AvAV]], sOptB);
addLegend(967, 377, 'Mask', [['sb|No', COL.no], ['sb|Yes', COL.yes]], bOptB);
addLegend(460, 651, 'Mask', [['po|No', COL.no], ['po|Yes', COL.yes]], mOptB);
addLegend(705, 657, 'Modality', [['ps|A', COL.A], ['ps|AV', COL.AV], ['ps|A vs. AV', COL.AvAV]], sOptB);
addLegend(975, 663, 'Mask', [['pb|No', COL.no], ['pb|Yes', COL.yes]], bOptB);
addLegend(462, 939, 'Mask', [['wo|No', COL.no], ['wo|Yes', COL.yes]], mOptB);
addLegend(702, 956, 'Modality', [['ws|A', COL.A], ['ws|AV', COL.AV], ['ws|A vs. AV', COL.AvAV]], sOptB);
addLegend(974, 953, 'Mask', [['wb|No', COL.no], ['wb|Yes', COL.yes]], bOptB);
addLegend(360, 1267, 'Modality', [['lip|AV', COL.no], ['lip|A', COL.yes]], {icon: 'circle', iw: 10, ih: 10, gap: 4, pt: 17, fs: 8, tfs: 10, pr: 20});

// ---- Texts
addText(203, 37, 'A', 24); addText(203, 300, 'B', 24);
addText(448, 42, 'Comprehension', 21); addText(903, 42, 'Difficulty Ratings', 21);
addText(665, 311, 'Speech Envelope', 22); addText(666, 596, 'Phoneme Onset', 22);
addText(665, 893, 'Word Onset', 22); addText(665, 1196, 'Lip Area', 22);
[[289, 75, 'A'], [405, 75, 'AV'], [582, 75, 'Statistics'], [767, 75, 'A'], [866, 75, 'AV'], [1029, 75, 'Statistics']]
  .forEach(t => addText(t[0], t[1], t[2], 16));
[[303, 341, 'A'], [436, 341, 'AV'], [666, 341, 'Statistics'], [991, 341, 'AV–A'],
 [303, 636, 'A'], [436, 636, 'AV'], [662, 636, 'Statistics'], [1001, 636, 'AV–A'],
 [303, 927, 'A'], [436, 927, 'AV'], [667, 927, 'Statistics'], [999, 927, 'AV–A'],
 [577, 1229, 'Statistics'], [944, 1229, 'AV–A']].forEach(t => addText(t[0], t[1], t[2], 17));
yTitle(206, 160, 'Percentage correct', 12); fTitle(453, 150, 13);
yTitle(700, 160, 'Ratings', 13); fTitle(908, 153, 13);
addText(341, 262, 'Distractor', 14); addText(819, 267, 'Distractor', 14);
yTitle(208, 450, 'Reconstruction Accuracy', 14); fTitle(505, 445, 13); yTitle(822, 455, 'Visual Benfeit', 14.5);
addText(372, 574, 'Distractor', 15.5); addText(996, 571, 'Distractor', 15.5);
yTitle(202, 731, 'Reconstruction Accuracy', 14); fTitle(504, 735, 13); yTitle(822, 738, 'Visual Benfeit', 14.5);
addText(364, 859, 'Distractor', 15.5); addText(1001, 858, 'Distractor', 15.5);
yTitle(203, 1030, 'Reconstruction Accuracy', 12.5); fTitle(504, 1030, 13); yTitle(818, 1040, 'Visual Benfeit', 14.5);
addText(366, 1163, 'Distractor', 15.5); addText(1000, 1158, 'Distractor', 15.5);
yTitle(229, 1340, 'Reconstruction Accuracy', 14); fTitle(425, 1340, 13); yTitle(754, 1345, 'Visual Benfeit', 14.5);
addText(330, 1465, 'Distractor', 15.5); addText(942, 1463, 'Distractor', 15.5);

const chart = echarts.init(document.getElementById('c'), null, {renderer: 'canvas'});
chart.setOption(option);
</script>
</body></html>
